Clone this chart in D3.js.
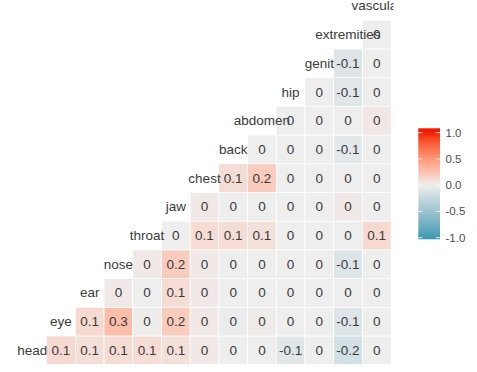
<!DOCTYPE html>
<html>
<head>
<meta charset="utf-8">
<script src="https://cdn.jsdelivr.net/npm/d3@7"></script>
<style>
  html, body { margin: 0; padding: 0; background: #fff; }
  svg { display: block; font-family: "Liberation Sans", Arial, Helvetica, sans-serif; }
</style>
</head>
<body>
<svg id="chart" width="477" height="372"></svg>
<script>
// Variables (diagonal labels), bottom row first
const variables = ["head", "eye", "ear", "nose", "throat", "jaw", "chest", "back",
                   "abdomen", "hip", "genit", "extremities", "vascular"];

// Correlations: row r holds corr(variables[r], variables[c]) for c = r+1 .. 12
const headRow        = [0.12, 0.09, 0.1, 0.1, 0.08, 0.03, 0, 0, -0.08, 0, -0.17, 0];
const eyeRow         = [0.12, 0.28, 0.01, 0.2, 0.03, -0.03, 0.02, 0, 0, -0.1, 0];
const earRow         = [0.03, 0, 0.1, 0.03, 0, 0, 0, 0, 0, 0];
const noseRow        = [0.03, 0.2, 0.03, 0, 0, 0, 0, -0.1, 0];
const throatRow      = [0, 0.1, 0.1, 0.08, 0, 0, 0, 0.12];
const jawRow         = [0.03, 0, 0, 0, 0, 0.03, 0];
const chestRow       = [0.1, 0.2, 0, 0, 0, 0];
const backRow        = [0, 0, 0, -0.07, 0];
const abdomenRow     = [0, 0, 0, 0.04];
const hipRow         = [0, -0.08, 0];
const genitRow       = [-0.1, 0];
const extremitiesRow = [0];
const corrRows = [headRow, eyeRow, earRow, noseRow, throatRow, jawRow, chestRow,
                  backRow, abdomenRow, hipRow, genitRow, extremitiesRow];

const legendTicks = [-1, -0.5, 0, 0.5, 1];

const svg = d3.select("#chart");

const x = d3.scaleBand().domain(variables).range([17.95, 391.05]).paddingInner(0);
const y = d3.scaleBand().domain(variables).range([364.65, -8.45]).paddingInner(0);

const color = d3.scaleLinear()
  .domain([-1, 0, 1])
  .range(["#3B9AB2", "#EEEEEE", "#F21A00"])
  .interpolate(d3.interpolateLab)
  .clamp(true);

const cells = [];
corrRows.forEach((row, r) => {
  row.forEach((v, k) => {
    const c = r + 1 + k;
    cells.push({ row: variables[r], col: variables[c], value: v });
  });
});

const fmt = v => {
  const r = Math.round(v * 10) / 10;
  return r === 0 ? "0" : String(r);
};

svg.append("defs").append("clipPath").attr("id", "panelClip")
  .append("rect").attr("x", 0).attr("y", -20).attr("width", 393.5).attr("height", 400);

const panel = svg.append("g").attr("clip-path", "url(#panelClip)");

panel.selectAll("rect.cell").data(cells).join("rect")
  .attr("class", "cell")
  .attr("x", d => x(d.col))
  .attr("y", d => y(d.row))
  .attr("width", x.bandwidth())
  .attr("height", y.bandwidth())
  .attr("fill", d => color(d.value))
  .attr("stroke", "#ffffff")
  .attr("stroke-width", 0.7);

panel.selectAll("text.val").data(cells).join("text")
  .attr("class", "val")
  .attr("x", d => x(d.col) + x.bandwidth() / 2)
  .attr("y", d => y(d.row) + y.bandwidth() / 2)
  .attr("text-anchor", "middle")
  .attr("dominant-baseline", "central")
  .attr("font-size", "13.5px")
  .attr("fill", "#3a3a3a")
  .text(d => fmt(d.value));

panel.selectAll("text.diag").data(variables).join("text")
  .attr("class", "diag")
  .attr("x", d => x(d) + x.bandwidth() / 2)
  .attr("y", d => y(d) + y.bandwidth() / 2)
  .attr("text-anchor", "middle")
  .attr("dominant-baseline", "central")
  .attr("font-size", "13.5px")
  .attr("fill", "#3a3a3a")
  .text(d => d);

// Legend colourbar
const barX = 418.3, barW = 21.7, barTop = 128.3, barBottom = 239.3;
const ly = d3.scaleLinear().domain([-1, 1]).range([237.7, 132.7]);

const grad = svg.select("defs").append("linearGradient")
  .attr("id", "legendGrad").attr("x1", 0).attr("y1", 1).attr("x2", 0).attr("y2", 0);
d3.range(0, 41).forEach(i => {
  const t = i / 40;
  const pos = barBottom - t * (barBottom - barTop);
  grad.append("stop")
    .attr("offset", t)
    .attr("stop-color", color(ly.invert(pos)));
});

const legend = svg.append("g");
legend.append("rect")
  .attr("x", barX).attr("y", barTop)
  .attr("width", barW).attr("height", barBottom - barTop)
  .attr("fill", "url(#legendGrad)");

const tickLen = barW / 5;
legendTicks.forEach(t => {
  legend.append("line")
    .attr("x1", barX).attr("x2", barX + tickLen)
    .attr("y1", ly(t)).attr("y2", ly(t))
    .attr("stroke", "#fff").attr("stroke-width", 0.8);
  legend.append("line")
    .attr("x1", barX + barW - tickLen).attr("x2", barX + barW)
    .attr("y1", ly(t)).attr("y2", ly(t))
    .attr("stroke", "#fff").attr("stroke-width", 0.8);
});

legend.selectAll("text.lt").data(legendTicks).join("text")
  .attr("class", "lt")
  .attr("x", 445.5)
  .attr("y", d => ly(d))
  .attr("dominant-baseline", "central")
  .attr("font-size", "11.5px")
  .attr("fill", "#4d4d4d")
  .text(d => d3.format(".1f")(d).replace("\u2212", "-"));
</script>
</body>
</html>
